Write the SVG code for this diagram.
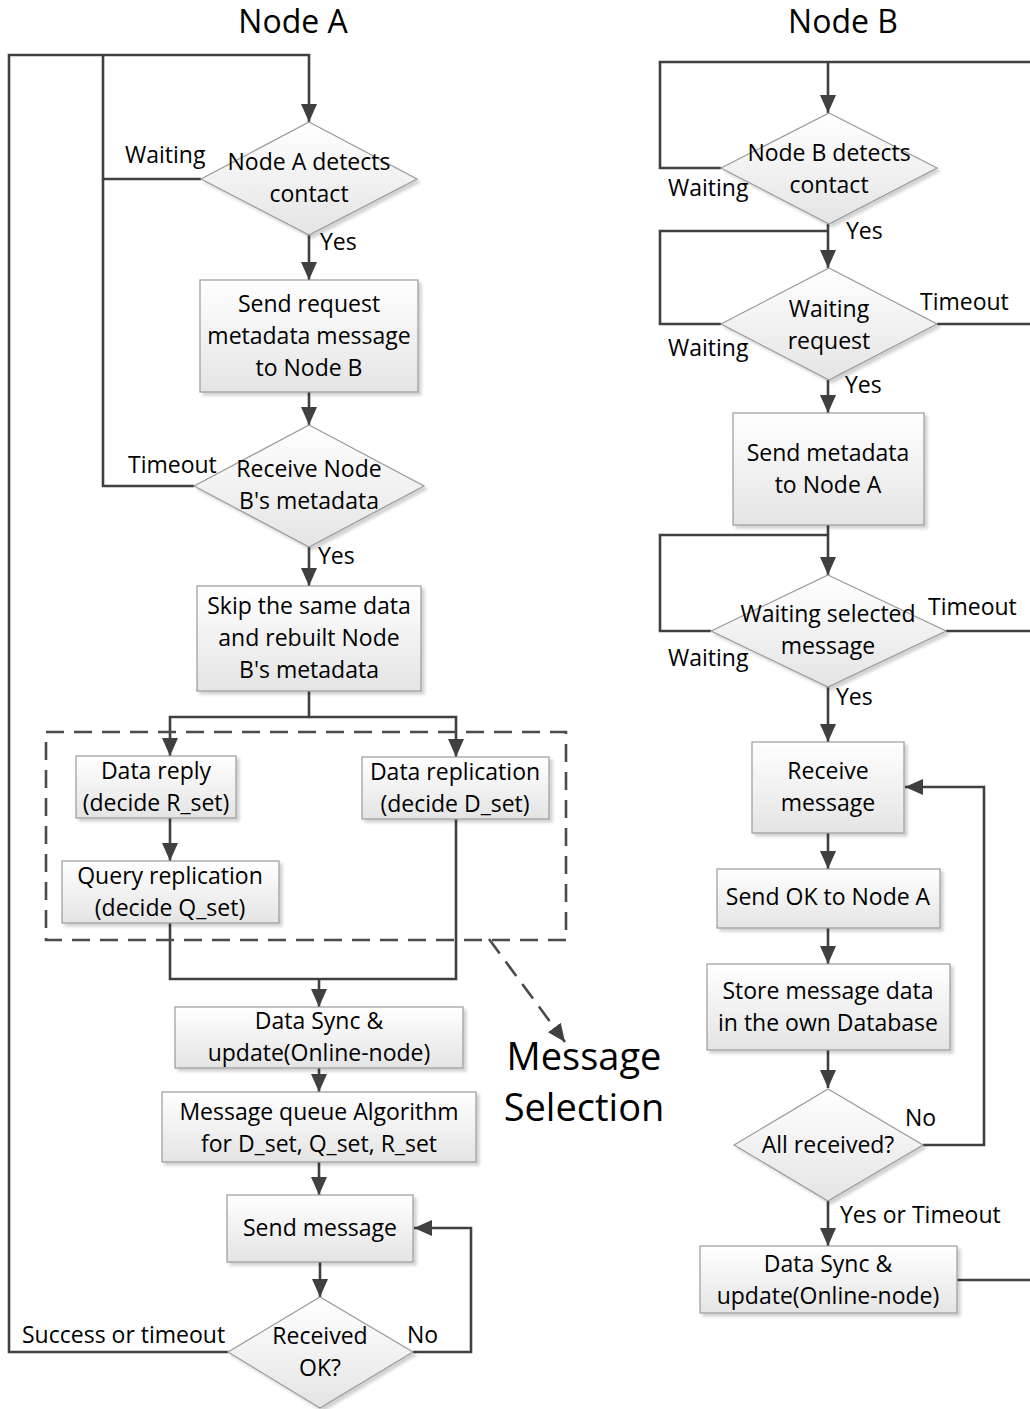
<svg xmlns="http://www.w3.org/2000/svg" width="1030" height="1409" viewBox="0 0 1030 1409">
  <style>
    .shape { fill: url(#fillGrad); stroke: #9a9a9a; stroke-width: 1.2; filter: url(#shadow); }
    .wire { fill: none; stroke: #404040; stroke-width: 2.6; }
    .arrow { marker-end: url(#head); }
    .dash { fill: none; stroke: #4a4a4a; stroke-width: 2.6; stroke-dasharray: 18 10; }
    text { font-family: "Open Sans", "Noto Sans", sans-serif; fill: #000; }
    .t { font-size: 23px; text-anchor: middle; }
    .lbl { font-size: 23px; }
    .title { font-size: 32px; text-anchor: middle; }
    .big { font-size: 38px; text-anchor: middle; }
  </style>
  <defs>
    <linearGradient id="fillGrad" x1="0" y1="0" x2="0" y2="1">
      <stop offset="0" stop-color="#ffffff"/>
      <stop offset="1" stop-color="#e4e4e4"/>
    </linearGradient>
    <filter id="shadow" x="-10%" y="-10%" width="125%" height="130%">
      <feDropShadow dx="3" dy="3" stdDeviation="1.5" flood-color="#000" flood-opacity="0.18"/>
    </filter>
    <marker id="head" markerUnits="userSpaceOnUse" markerWidth="18" markerHeight="16" refX="18" refY="8" orient="auto">
      <path d="M0,0 L18,8 L0,16 z" fill="#404040"/>
    </marker>
  </defs>

  <!-- column titles -->
  <text class="title" x="293" y="33">Node A</text>
  <text class="title" x="843" y="33">Node B</text>

  <!-- connectors -->
  <g id="connectors">
    <!-- Node A side -->
    <path class="wire arrow" d="M228,1352 H9 V55 H309 V122"/>
    <path class="wire" d="M201,179 H103 V55"/>
    <path class="wire" d="M194,486 H103 V179"/>
    <path class="wire arrow" d="M309,235 V280"/>
    <path class="wire arrow" d="M309,392 V425"/>
    <path class="wire arrow" d="M309,547 V586"/>
    <path class="wire arrow" d="M309,691 V717 H170 V756"/>
    <path class="wire arrow" d="M309,717 H456 V757"/>
    <path class="wire arrow" d="M170,818 V861"/>
    <path class="wire" d="M170,923 V979 H456 V819"/>
    <path class="wire arrow" d="M319,979 V1007"/>
    <path class="wire arrow" d="M319,1068 V1092"/>
    <path class="wire arrow" d="M319,1162 V1195"/>
    <path class="wire arrow" d="M320,1262 V1297"/>
    <path class="wire arrow" d="M413,1352 H471 V1228 H414"/>
    <path class="dash arrow" d="M489,939 L565,1042"/>

    <!-- Node B side -->
    <path class="wire" d="M721,168 H660 V62 H1030"/>
    <path class="wire arrow" d="M828,62 V113"/>
    <path class="wire arrow" d="M828,224 V268"/>
    <path class="wire" d="M828,231 H660 V324 H721"/>
    <path class="wire" d="M937,324 H1030"/>
    <path class="wire arrow" d="M828,380 V413"/>
    <path class="wire arrow" d="M828,525 V575"/>
    <path class="wire" d="M828,535 H660 V631 H711"/>
    <path class="wire" d="M946,631 H1030"/>
    <path class="wire arrow" d="M828,687 V742"/>
    <path class="wire arrow" d="M828,833 V869"/>
    <path class="wire arrow" d="M828,928 V964"/>
    <path class="wire arrow" d="M828,1050 V1088"/>
    <path class="wire arrow" d="M923,1145 H984 V787 H905"/>
    <path class="wire arrow" d="M828,1201 V1246"/>
    <path class="wire" d="M957,1280 H1030"/>
  </g>

  <!-- dashed grouping frame -->
  <g id="message-selection-frame">
    <rect class="dash" x="46" y="732" width="520" height="208"/>
    <text class="big" x="584" y="1070">Message</text>
    <text class="big" x="584" y="1121">Selection</text>
  </g>

  <!-- edge labels -->
  <g id="edge-labels">
    <text class="lbl" x="125" y="163">Waiting</text>
    <text class="lbl" x="320" y="250">Yes</text>
    <text class="lbl" x="128" y="473">Timeout</text>
    <text class="lbl" x="318" y="564">Yes</text>
    <text class="lbl" x="22" y="1343">Success or timeout</text>
    <text class="lbl" x="407" y="1343">No</text>

    <text class="lbl" x="668" y="196">Waiting</text>
    <text class="lbl" x="846" y="239">Yes</text>
    <text class="lbl" x="920" y="310">Timeout</text>
    <text class="lbl" x="668" y="356">Waiting</text>
    <text class="lbl" x="845" y="393">Yes</text>
    <text class="lbl" x="928" y="615">Timeout</text>
    <text class="lbl" x="668" y="666">Waiting</text>
    <text class="lbl" x="836" y="705">Yes</text>
    <text class="lbl" x="905" y="1126">No</text>
    <text class="lbl" x="840" y="1223">Yes or Timeout</text>
  </g>

  <!-- Node A nodes -->
  <g id="a-detect">
    <polygon class="shape" points="309,122 417,179 309,235 201,179"/>
    <text class="t" x="309" y="170">Node A detects</text>
    <text class="t" x="309" y="202">contact</text>
  </g>
  <g id="a-send-request">
    <rect class="shape" x="200" y="280" width="218" height="112"/>
    <text class="t" x="309" y="312">Send request</text>
    <text class="t" x="309" y="344">metadata message</text>
    <text class="t" x="309" y="376">to Node B</text>
  </g>
  <g id="a-receive-meta">
    <polygon class="shape" points="309,425 424,486 309,547 194,486"/>
    <text class="t" x="309" y="477">Receive Node</text>
    <text class="t" x="309" y="509">B's metadata</text>
  </g>
  <g id="a-skip">
    <rect class="shape" x="197" y="586" width="224" height="105"/>
    <text class="t" x="309" y="614">Skip the same data</text>
    <text class="t" x="309" y="646">and rebuilt Node</text>
    <text class="t" x="309" y="678">B's metadata</text>
  </g>
  <g id="a-data-reply">
    <rect class="shape" x="76" y="756" width="160" height="62"/>
    <text class="t" x="156" y="779">Data reply</text>
    <text class="t" x="156" y="811">(decide R_set)</text>
  </g>
  <g id="a-data-replication">
    <rect class="shape" x="362" y="757" width="187" height="62"/>
    <text class="t" x="455" y="780">Data replication</text>
    <text class="t" x="455" y="812">(decide D_set)</text>
  </g>
  <g id="a-query-replication">
    <rect class="shape" x="62" y="861" width="217" height="62"/>
    <text class="t" x="170" y="884">Query replication</text>
    <text class="t" x="170" y="916">(decide Q_set)</text>
  </g>
  <g id="a-data-sync">
    <rect class="shape" x="175" y="1007" width="288" height="61"/>
    <text class="t" x="319" y="1029">Data Sync &amp;</text>
    <text class="t" x="319" y="1061">update(Online-node)</text>
  </g>
  <g id="a-queue">
    <rect class="shape" x="162" y="1092" width="314" height="70"/>
    <text class="t" x="319" y="1120">Message queue Algorithm</text>
    <text class="t" x="319" y="1152">for D_set, Q_set, R_set</text>
  </g>
  <g id="a-send-message">
    <rect class="shape" x="227" y="1195" width="186" height="67"/>
    <text class="t" x="320" y="1236">Send message</text>
  </g>
  <g id="a-received-ok">
    <polygon class="shape" points="320,1297 413,1352 320,1408 228,1352"/>
    <text class="t" x="320" y="1344">Received</text>
    <text class="t" x="320" y="1376">OK?</text>
  </g>

  <!-- Node B nodes -->
  <g id="b-detect">
    <polygon class="shape" points="829,113 937,168 829,224 721,168"/>
    <text class="t" x="829" y="161">Node B detects</text>
    <text class="t" x="829" y="193">contact</text>
  </g>
  <g id="b-wait-request">
    <polygon class="shape" points="829,268 937,324 829,380 721,324"/>
    <text class="t" x="829" y="317">Waiting</text>
    <text class="t" x="829" y="349">request</text>
  </g>
  <g id="b-send-meta">
    <rect class="shape" x="733" y="413" width="191" height="112"/>
    <text class="t" x="828" y="461">Send metadata</text>
    <text class="t" x="828" y="493">to Node A</text>
  </g>
  <g id="b-wait-selected">
    <polygon class="shape" points="828,575 946,631 828,687 711,631"/>
    <text class="t" x="828" y="622">Waiting selected</text>
    <text class="t" x="828" y="654">message</text>
  </g>
  <g id="b-receive">
    <rect class="shape" x="752" y="742" width="152" height="91"/>
    <text class="t" x="828" y="779">Receive</text>
    <text class="t" x="828" y="811">message</text>
  </g>
  <g id="b-send-ok">
    <rect class="shape" x="717" y="869" width="223" height="59"/>
    <text class="t" x="828" y="905">Send OK to Node A</text>
  </g>
  <g id="b-store">
    <rect class="shape" x="707" y="964" width="243" height="86"/>
    <text class="t" x="828" y="999">Store message data</text>
    <text class="t" x="828" y="1031">in the own Database</text>
  </g>
  <g id="b-all-received">
    <polygon class="shape" points="828,1089 923,1145 828,1201 734,1145"/>
    <text class="t" x="828" y="1153">All received?</text>
  </g>
  <g id="b-data-sync">
    <rect class="shape" x="700" y="1246" width="257" height="67"/>
    <text class="t" x="828" y="1272">Data Sync &amp;</text>
    <text class="t" x="828" y="1304">update(Online-node)</text>
  </g>
</svg>
